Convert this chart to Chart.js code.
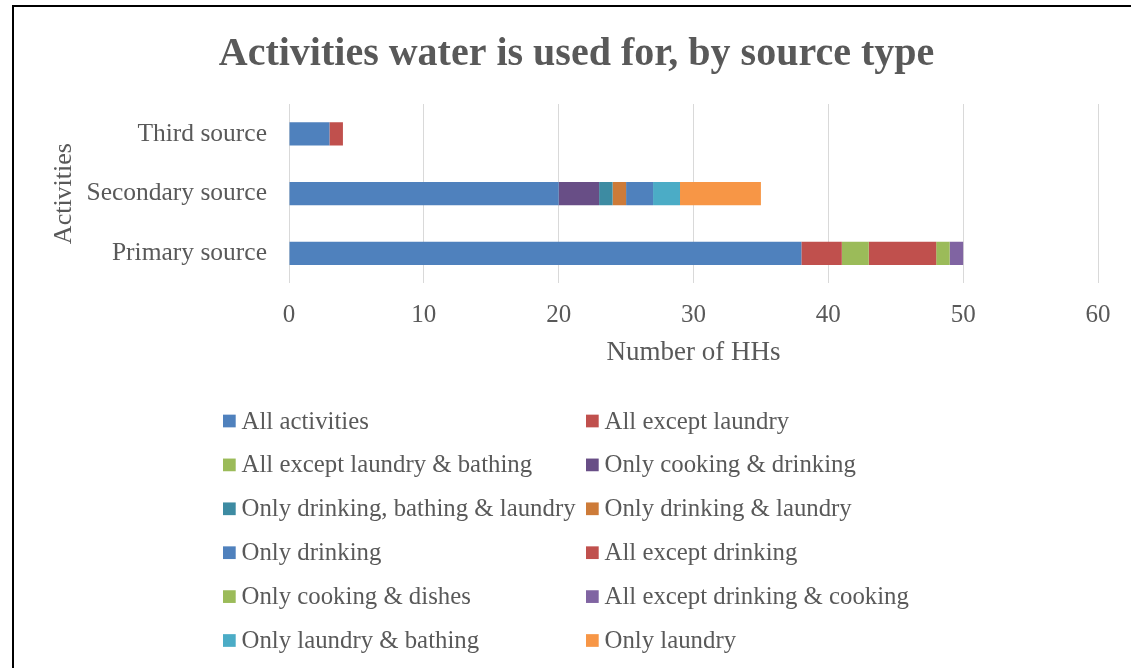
<!DOCTYPE html>
<html>
<head>
<meta charset="utf-8">
<title>Activities water is used for, by source type</title>
<script src="https://cdn.jsdelivr.net/npm/chart.js@4.4.1/dist/chart.umd.min.js"></script>
<style>
  html, body { margin: 0; padding: 0; background: #fff; overflow: hidden; }
  #wrap { position: relative; width: 1131px; height: 668px; }
  #frame { position: absolute; left: 12px; top: 5px; width: 1300px; height: 800px;
           border-top: 2px solid #000; border-left: 2px solid #000; box-sizing: border-box;
           pointer-events: none; }
  canvas { position: absolute; left: 0; top: 0; }
</style>
</head>
<body>
<div id="wrap">
  <canvas id="chart" width="1131" height="668"></canvas>
  <div id="frame"></div>
</div>
<script>
// Source types (bottom to top on the chart)
const sources = ['Primary source', 'Secondary source', 'Third source'];

// Number of households per activity group, for each source type
const allActivities              = [38, 20, 3];
const allExceptLaundry           = [3, 0, 1];
const allExceptLaundryBathing    = [2, 0, 0];
const onlyCookingDrinking        = [0, 3, 0];
const onlyDrinkingBathingLaundry = [0, 1, 0];
const onlyDrinkingLaundry        = [0, 1, 0];
const onlyDrinking               = [0, 2, 0];
const allExceptDrinking          = [5, 0, 0];
const onlyCookingDishes          = [1, 0, 0];
const allExceptDrinkingCooking   = [1, 0, 0];
const onlyLaundryBathing         = [0, 2, 0];
const onlyLaundry                = [0, 6, 0];

const xTicks = [0, 10, 20, 30, 40, 50, 60];

const FONT = '"Liberation Serif", "Times New Roman", serif';
const GREY = '#595959';

const series = [
  ['All activities',                   allActivities,              '#4F81BD'],
  ['All except laundry',               allExceptLaundry,           '#C0504D'],
  ['All except laundry & bathing',     allExceptLaundryBathing,    '#9BBB59'],
  ['Only cooking & drinking',          onlyCookingDrinking,        '#684E86'],
  ['Only drinking, bathing & laundry', onlyDrinkingBathingLaundry, '#3D8BA2'],
  ['Only drinking & laundry',          onlyDrinkingLaundry,        '#CD7B39'],
  ['Only drinking',                    onlyDrinking,               '#4F81BD'],
  ['All except drinking',              allExceptDrinking,          '#C0504D'],
  ['Only cooking & dishes',            onlyCookingDishes,          '#9BBB59'],
  ['All except drinking & cooking',    allExceptDrinkingCooking,   '#8064A2'],
  ['Only laundry & bathing',           onlyLaundryBathing,         '#4BACC6'],
  ['Only laundry',                     onlyLaundry,                '#F79646']
];

const datasets = series.map(([label, data, color]) => ({
  label,
  data,
  backgroundColor: color,
  borderWidth: 0,
  barPercentage: 0.39,
  categoryPercentage: 1.0
}));

// Two-column legend drawn below the plot
const twoColumnLegend = {
  id: 'twoColumnLegend',
  afterDraw(chart) {
    const ctx = chart.ctx;
    const colX = [223, 586];
    const firstRowY = 421;
    const rowGap = 43.9;
    const box = 12.7;
    ctx.save();
    ctx.font = '24.8px ' + FONT;
    ctx.textBaseline = 'middle';
    ctx.textAlign = 'left';
    chart.data.datasets.forEach((ds, i) => {
      const x = colX[i % 2];
      const y = firstRowY + Math.floor(i / 2) * rowGap;
      ctx.fillStyle = ds.backgroundColor;
      ctx.fillRect(x, y - box / 2, box, box);
      ctx.fillStyle = GREY;
      ctx.fillText(ds.label, x + 18.5, y + 1);
    });
    ctx.restore();
  }
};

new Chart(document.getElementById('chart'), {
  type: 'bar',
  data: { labels: sources, datasets },
  plugins: [twoColumnLegend],
  options: {
    indexAxis: 'y',
    responsive: false,
    animation: false,
    layout: { padding: { left: 55, right: 33, top: 0, bottom: 298.6 } },
    plugins: {
      legend: { display: false },
      tooltip: { enabled: false },
      title: {
        display: true,
        text: 'Activities water is used for, by source type',
        color: GREY,
        font: { family: FONT, size: 40, weight: 'bold' },
        padding: { top: 31, bottom: 25 }
      }
    },
    scales: {
      x: {
        stacked: true,
        min: 0,
        max: 60,
        afterBuildTicks(scale) { scale.ticks = xTicks.map(v => ({ value: v })); },
        afterFit(scale) { scale.height = 86.2; },
        grid: { color: '#D9D9D9', lineWidth: 1, drawTicks: false },
        border: { display: false },
        ticks: { color: GREY, font: { family: FONT, size: 25 }, padding: 17 },
        title: {
          display: true,
          text: 'Number of HHs',
          color: GREY,
          font: { family: FONT, size: 27 },
          padding: { top: 0, bottom: 0 }
        }
      },
      y: {
        stacked: true,
        reverse: true,
        afterFit(scale) { scale.width = 234; },
        grid: { display: false, drawTicks: false },
        border: { display: false },
        ticks: { color: GREY, font: { family: FONT, size: 25.5 }, padding: 22 },
        title: {
          display: true,
          text: 'Activities',
          color: GREY,
          font: { family: FONT, size: 26 },
          padding: { top: -6.6, bottom: 0 }
        }
      }
    }
  }
});
</script>
</body>
</html>
